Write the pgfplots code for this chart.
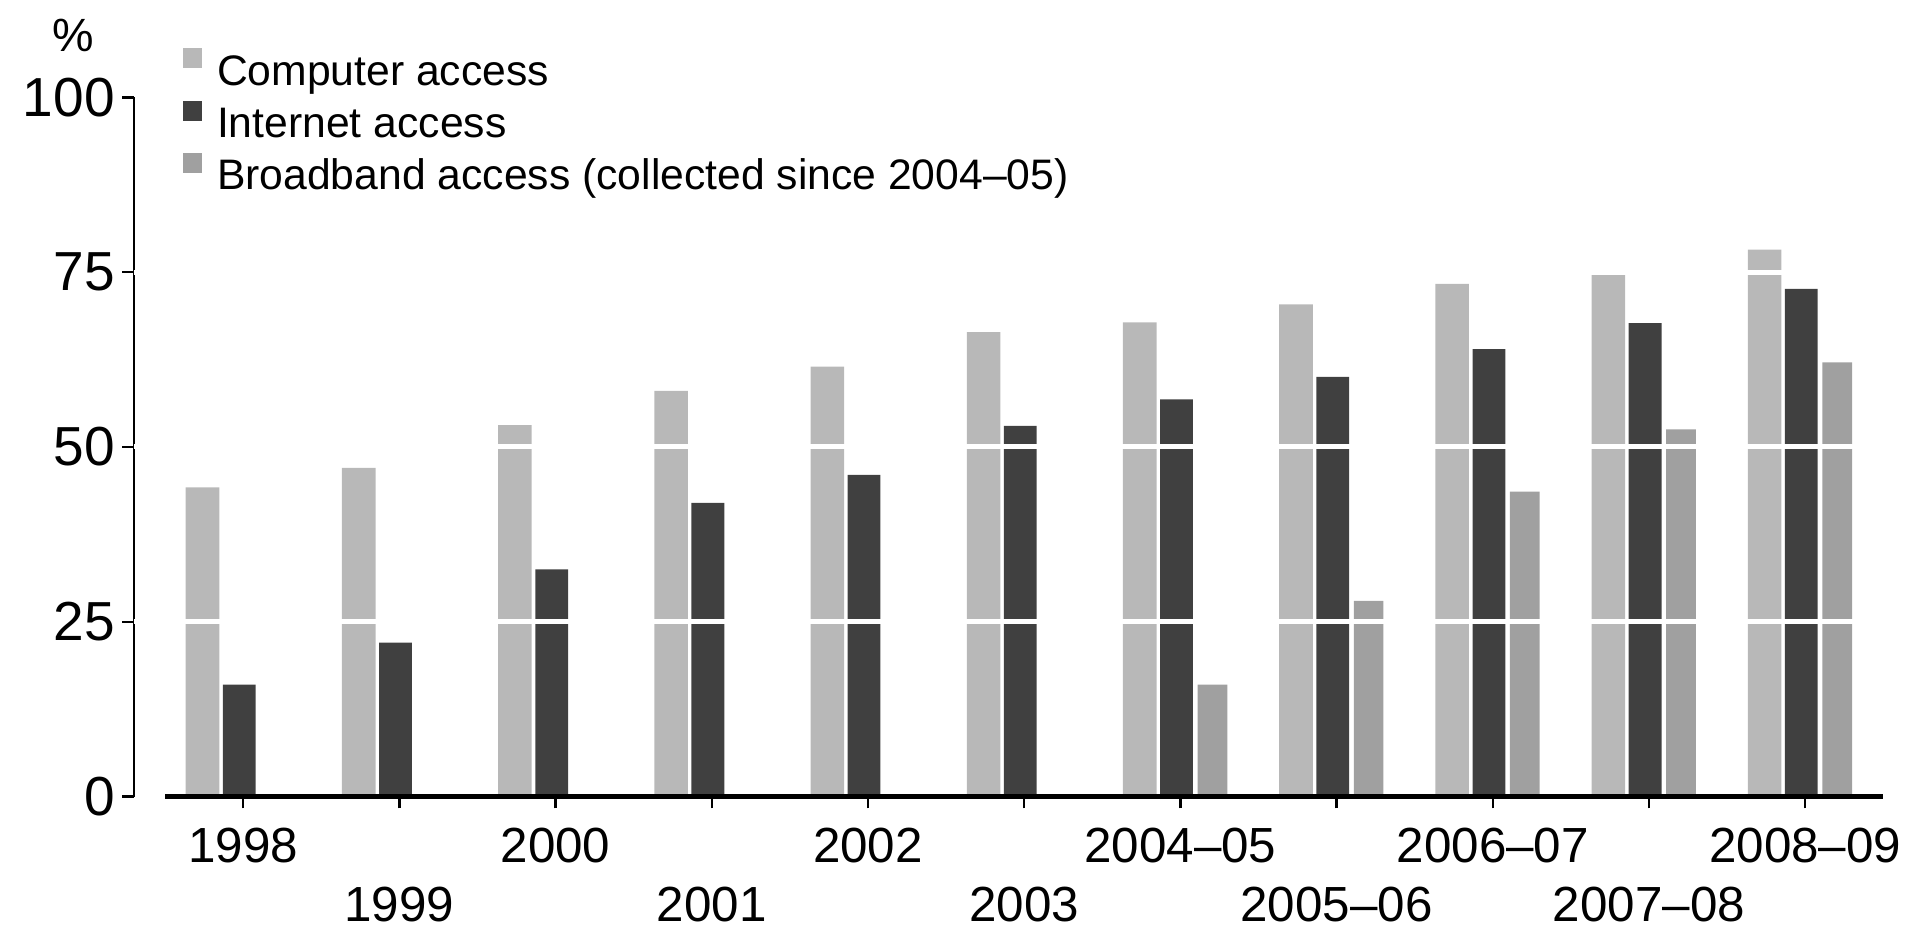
\documentclass[border=0pt]{standalone}
\usepackage{pgfplots}
\pgfplotsset{compat=1.18}
\usepackage{fontspec}
\setmainfont{Liberation Sans}

\definecolor{compc}{HTML}{B8B8B8}
\definecolor{netc}{HTML}{404040}
\definecolor{bbc}{HTML}{A0A0A0}

\begin{document}
\begin{tikzpicture}
\useasboundingbox (-40.14pt,-39.12pt) rectangle (531.96pt,238.98pt);
\begin{axis}[
  at={(0pt,0pt)}, anchor=south west,
  scale only axis, width=524.85pt, height=209.8pt,
  xmin=-0.7, xmax=10.5, ymin=0, ymax=100,
  clip=false,
  axis x line*=bottom, axis y line*=left,
  axis line style={-, line width=0.75pt},
  x axis line style={draw=none},
  tick align=outside, major tick length=3.5pt,
  tick style={black, line width=0.75pt},
  xtick={0,...,10},
  xticklabels={\strut 1998, {\strut\\\strut 1999}, \strut 2000, {\strut\\\strut 2001},
    \strut 2002, {\strut\\\strut 2003}, \strut 2004–05, {\strut\\\strut 2005–06},
    \strut 2006–07, {\strut\\\strut 2007–08}, \strut 2008–09},
  xticklabel style={align=center, font=\fontsize{14.8}{17.5}\selectfont, yshift=-0.6pt},
  ytick={0,25,50,75,100},
  yticklabel style={font=\fontsize{16.5}{18}\selectfont, xshift=1.3pt},
  /pgf/number format/assume math mode=true,
  extra y ticks={25,50,75}, extra y tick labels={},
  extra y tick style={grid=major, major grid style={white, line width=1.5pt}, major tick length=0pt},
  axis on top,
  legend cell align=left,
  legend image code/.code={\fill[#1] (0pt,1.6pt) rectangle (5.7pt,7.6pt);},
  legend style={at={(0,1)}, anchor=north west, xshift=14.5pt, yshift=14.9pt,
    draw=none, fill=none, inner sep=0pt, row sep=1.6pt, column sep=4.6pt,
    font=\fontsize{12.8}{15}\selectfont,
    nodes={inner sep=0pt, text height=10pt, text depth=3pt}},
]
\addplot[ybar, bar width=0.215, bar shift=-0.26, fill=compc, draw=none] coordinates {
  (0,44.2) (1,47) (2,53.1) (3,58) (4,61.5) (5,66.4) (6,67.8) (7,70.4) (8,73.3) (9,74.6) (10,78.2)
};
\addlegendentry{Computer access}
\addplot[ybar, bar width=0.21, bar shift=-0.025, fill=netc, draw=none] coordinates {
  (0,16) (1,22) (2,32.5) (3,42) (4,46) (5,53) (6,56.8) (7,60) (8,64) (9,67.7) (10,72.6)
};
\addlegendentry{Internet access}
\addplot[ybar, bar width=0.19, bar shift=0.205, fill=bbc, draw=none] coordinates {
  (6,16) (7,28) (8,43.6) (9,52.5) (10,62.1)
};
\addlegendentry{Broadband access (collected since 2004–05)}
\draw[line width=1.5pt] (axis cs:-0.5,0) -- (axis cs:10.5,0);
\node[font=\fontsize{14}{16}\selectfont] at ([xshift=-18.2pt,yshift=18.4pt]rel axis cs:0,1) {\%};
\end{axis}
\end{tikzpicture}
\end{document}
